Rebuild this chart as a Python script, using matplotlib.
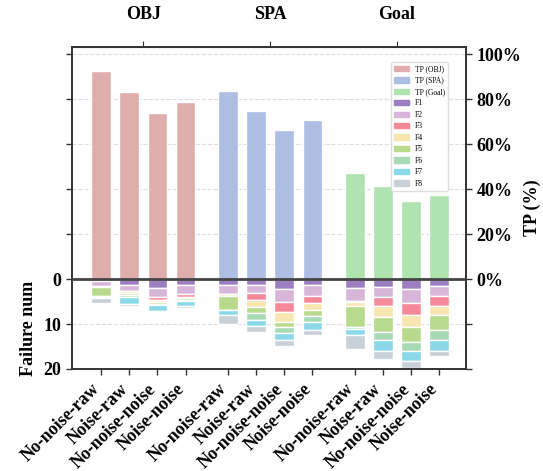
import numpy as np
import matplotlib.pyplot as plt
import matplotlib.transforms as mtransforms
from matplotlib.patches import Patch

plt.rcParams['font.family'] = ['Liberation Serif', 'DejaVu Serif']

groups = ['OBJ', 'SPA', 'Goal']
settings = ['No-noise-raw', 'Noise-raw', 'No-noise-noise', 'Noise-noise']

# TP rate (%) per setting
tp_obj = [92.7, 83.3, 74.0, 78.8]
tp_spa = [83.5, 74.6, 66.5, 70.7]
tp_goal = [47.3, 41.2, 34.5, 37.6]

# failure counts F1..F8 for each setting
fail_obj = [[0.4, 1.2, 0.1, 0.15, 1.85, 0.2, 0.3, 1.2],
            [1.3, 1.25, 0.15, 0.35, 0.5, 0.45, 1.6, 0.3],
            [2.0, 2.1, 0.5, 0.4, 0.45, 0.35, 1.25, 0.35],
            [1.3, 2.0, 0.6, 0.35, 0.3, 0.4, 1.1, 0.35]]
fail_spa = [[1.3, 2.0, 0.0, 0.45, 3.1, 0.1, 1.0, 2.0],
            [1.3, 1.7, 1.6, 1.7, 1.3, 1.4, 1.55, 1.3],
            [2.2, 2.8, 2.4, 2.1, 1.25, 1.3, 1.6, 1.3],
            [1.3, 2.4, 1.55, 1.7, 1.3, 1.4, 1.7, 1.2]]
fail_goal = [[2.0, 2.9, 0.3, 0.8, 4.7, 0.45, 1.4, 3.0],
             [1.7, 2.4, 1.9, 2.4, 3.3, 1.9, 2.4, 1.7],
             [2.2, 3.2, 2.6, 2.7, 3.3, 2.0, 2.3, 1.4],
             [1.55, 2.15, 2.3, 2.1, 3.3, 2.1, 2.4, 1.25]]

fail_names = ['F1', 'F2', 'F3', 'F4', 'F5', 'F6', 'F7', 'F8']

tp_colors = ['#e0adad', '#adbee2', '#afe3b0']
fail_colors = ['#9c7fc0', '#d8b6da', '#f5899a', '#f8e6b0',
               '#b8da8c', '#a8dab5', '#8ad8e8', '#c8d0d8']

fig = plt.figure(figsize=(5.43, 4.71), dpi=100)
ax = fig.add_axes([0.1326, 0.2166, 0.7256, 0.6836])
ax2 = ax.twinx()

width = 0.7
tps = [tp_obj, tp_spa, tp_goal]
fails = [fail_obj, fail_spa, fail_goal]
xpos = []
for g in range(3):
    x = np.arange(4) + g * 4.5
    xpos.extend(x)
    ax2.bar(x, tps[g], width, color=tp_colors[g], edgecolor='white', linewidth=1)
    f = np.array(fails[g])
    bottom = np.zeros(4)
    for k in range(8):
        ax.bar(x, f[:, k], width, bottom=bottom, color=fail_colors[k],
               edgecolor='white', linewidth=1)
        bottom += f[:, k]

ax.set_xlim(-1.03, 12.95)
ax.set_ylim(20, -51.6)
ax2.set_ylim(-40, 103.2)

ax2.axhline(0, color='#444444', lw=2, zorder=5)

ax.set_yticks(np.arange(-50, 21, 10))
ax.set_yticklabels([str(v) if v >= 0 else '' for v in range(-50, 21, 10)])
ax2.set_yticks(np.arange(-40, 101, 20))
ax2.set_yticklabels([f'{v}%' if v >= 0 else '' for v in range(-40, 101, 20)])

ax.yaxis.grid(True, ls='--', color='#dddddd', lw=0.8)
ax.set_axisbelow(True)

ax.set_xticks(xpos)
ax.set_xticklabels(settings * 3, rotation=45, ha='right', rotation_mode='anchor')

for a in (ax, ax2):
    for s in a.spines.values():
        s.set_color('#333333')
        s.set_linewidth(1.2)
    a.tick_params(colors='#333333', labelcolor='black', length=4, width=1)
    for lab in a.get_xticklabels() + a.get_yticklabels():
        lab.set_fontweight('bold')
        lab.set_fontsize(13)

# nudge the rotated labels left a bit
shift = mtransforms.ScaledTranslation(-10 / 100, -1 / 100, fig.dpi_scale_trans)
for tick in ax.xaxis.get_major_ticks():
    tick.label1.set_transform(tick.label1.get_transform() + shift)

sec = ax.secondary_xaxis('top')
sec.set_xticks([1.5, 6, 10.5])
sec.set_xticklabels(groups, fontweight='bold', fontsize=13)
sec.tick_params(length=4, pad=13, colors='#333333', labelcolor='black')
sec.spines['top'].set_color('#333333')

ax.set_ylabel('Failure num', fontweight='bold', fontsize=13)
ax.yaxis.set_label_coords(-0.09, 0.127)
ax2.set_ylabel('TP (%)', fontweight='bold', fontsize=13, labelpad=2)

handles = [Patch(color=c, label=f'TP ({g})') for c, g in zip(tp_colors, groups)]
handles += [Patch(color=c, label=n) for c, n in zip(fail_colors, fail_names)]
leg = ax2.legend(handles=handles, loc='upper right', bbox_to_anchor=(0.964, 0.965),
                 fontsize=5.5, labelspacing=0.45, handlelength=1.9,
                 frameon=True, edgecolor='#dddddd', framealpha=1)

fig.savefig('out.png', dpi=100)
